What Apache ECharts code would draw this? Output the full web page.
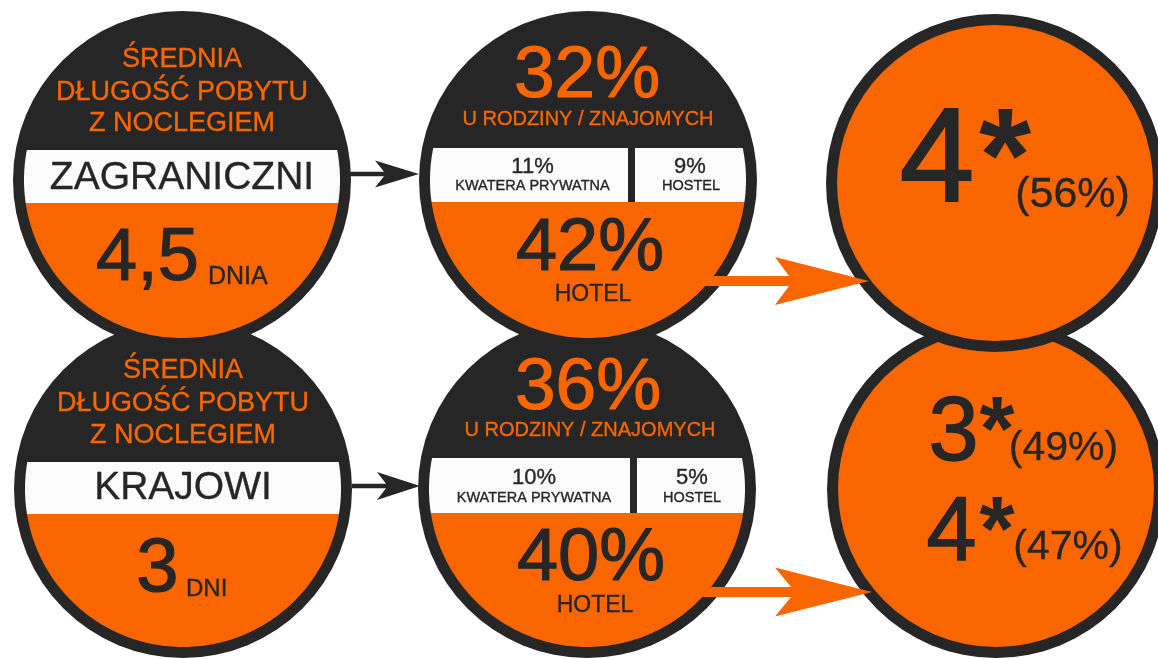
<!DOCTYPE html>
<html>
<head>
<meta charset="utf-8">
<script src="https://cdn.jsdelivr.net/npm/echarts@6/dist/echarts.min.js"></script>
<style>
html,body{margin:0;padding:0;background:#ffffff;}
#chart{width:1158px;height:659px;}
</style>
</head>
<body>
<div id="chart"></div>
<script>
// ---- data ----
const groups = ['ZAGRANICZNI', 'KRAJOWI'];
const stayTitle = ['ŚREDNIA', 'DŁUGOŚĆ POBYTU', 'Z NOCLEGIEM'];
const stayValues = ['4,5', '3'];
const stayUnits = ['DNIA', 'DNI'];
const familyShare = [32, 36];
const privateShare = [11, 10];
const hostelShare = [9, 5];
const hotelShare = [42, 40];
const hotelStars = [[4], [3, 4]];
const hotelStarShare = [[56], [49, 47]];
const familyLabel = 'U RODZINY / ZNAJOMYCH';
const privateLabel = 'KWATERA PRYWATNA';
const hostelLabel = 'HOSTEL';
const hotelLabel = 'HOTEL';

// ---- style ----
const ORANGE = '#F96600';
const DARK = '#262626';
const WHITE = '#FCFBFB';
const FONT = "'Liberation Sans', Arial, sans-serif";
const R = 169, BW = 11;

// ---- layout per row ----
const rows = [
  { c1: [182, 180], c2: [588, 180], c3: [995, 183],
    title: [60, 92.5, 124], band: [150, 203], name: 178,
    val: [147.5, 260, 74], unit: [208, 277, 25],
    fam: [587, 76.5], famLab: [588, 119], band2: [148, 202], div: [628, 635],
    pv: [532.5, 166.5], pl: [532.5, 186], hv: [690, 166.5], hl: [691, 186],
    hot: [590, 250], hotLab: [593, 294.5],
    stars: [ { big: [937, 164, 134], ast: 1005, pct: [1072.5, 195, 43] } ],
    darkArrow: { y: 174, x0: 350, barbX: 375, notchX: 384, tipX: 419, half: 13.5, lw: 4.5 },
    orangeArrow: { y: 281, x0: 700, barbX: 775, notchX: 789, tipX: 869, half: 24, lw: 10 }
  },
  { c1: [183, 489], c2: [587, 489], c3: [996, 489],
    title: [371, 403.5, 435.5], band: [462, 514], name: 488.5,
    val: [157.5, 570.5, 76], unit: [186, 589.5, 24],
    fam: [588, 389], famLab: [590, 430], band2: [458, 513], div: [630, 637],
    pv: [534, 477.5], pl: [534, 497.5], hv: [692, 477.5], hl: [692, 497.5],
    hot: [591, 560], hotLab: [595, 606],
    stars: [ { big: [953.5, 435, 90], ast: 997, pct: [1063.5, 448.5, 41] },
             { big: [951.5, 535.5, 90], ast: 997, pct: [1068, 547.5, 41] } ],
    darkArrow: { y: 486, x0: 352, barbX: 377, notchX: 386, tipX: 420, half: 14, lw: 4.5 },
    orangeArrow: { y: 592, x0: 703, barbX: 775, notchX: 791, tipX: 872, half: 24.5, lw: 10 }
  }
];

function clamp(v) { return Math.max(-1, Math.min(1, v)); }
function seg(cx, cy, r, ya, yb) {
  const a0 = Math.asin(clamp((ya - cy) / r)), a1 = Math.asin(clamp((yb - cy) / r));
  const N = 60, pts = [];
  for (let i = 0; i <= N; i++) { const t = a0 + (a1 - a0) * i / N; pts.push([cx + r * Math.cos(t), cy + r * Math.sin(t)]); }
  for (let i = N; i >= 0; i--) { const t = a0 + (a1 - a0) * i / N; pts.push([cx - r * Math.cos(t), cy + r * Math.sin(t)]); }
  return pts;
}
function txt(text, x, y, size, color, align, bold) {
  const w = bold ? 0 : (size >= 60 ? size * 0.016 : 0.35);
  return { type: 'text', x: x, y: y, silent: true,
    style: { text: text, fill: color, stroke: w > 0 ? color : null, lineWidth: w,
      font: (bold ? 'bold ' : '') + size + 'px ' + FONT,
      textAlign: align || 'center', textVerticalAlign: 'middle', align: align || 'center', verticalAlign: 'middle' } };
}
function circle(cx, cy, r, fill) { return { type: 'circle', shape: { cx: cx, cy: cy, r: r }, style: { fill: fill } }; }
function poly(points, fill) { return { type: 'polygon', shape: { points: points }, style: { fill: fill } }; }
function arrow(a, color) {
  const y = a.y, h = a.lw / 2;
  return poly([[a.x0, y - h], [a.notchX, y - h], [a.barbX, y - a.half], [a.tipX, y], [a.barbX, y + a.half], [a.notchX, y + h], [a.x0, y + h]], color);
}

function rowElements(i) {
  const L = rows[i], els = [];
  const ri = R - BW;
  // circle 1: stay length
  let [cx, cy] = L.c1;
  els.push(circle(cx, cy, R, DARK));
  els.push(poly(seg(cx, cy, ri, L.band[0], L.band[1]), WHITE));
  els.push(poly(seg(cx, cy, ri, L.band[1], cy + ri), ORANGE));
  stayTitle.forEach((t, k) => els.push(txt(t, cx, L.title[k], 27, ORANGE)));
  els.push(txt(groups[i], cx, L.name, 39, DARK));
  els.push(txt(stayValues[i], L.val[0], L.val[1], L.val[2], DARK));
  els.push(txt(stayUnits[i], L.unit[0], L.unit[1], L.unit[2], DARK, 'left'));
  // circle 2: accommodation
  [cx, cy] = L.c2;
  els.push(circle(cx, cy, R, DARK));
  els.push(poly(seg(cx, cy, ri, L.band2[0], L.band2[1]), WHITE));
  els.push({ type: 'rect', shape: { x: L.div[0], y: L.band2[0], width: L.div[1] - L.div[0], height: L.band2[1] - L.band2[0] }, style: { fill: DARK } });
  els.push(poly(seg(cx, cy, ri, L.band2[1], cy + ri), ORANGE));
  els.push(txt(familyShare[i] + '%', L.fam[0], L.fam[1], 73, ORANGE));
  els.push(txt(familyLabel, L.famLab[0], L.famLab[1], 20, ORANGE));
  els.push(txt(privateShare[i] + '%', L.pv[0], L.pv[1], 22, DARK));
  els.push(txt(privateLabel, L.pl[0], L.pl[1], 14.5, DARK));
  els.push(txt(hostelShare[i] + '%', L.hv[0], L.hv[1], 22, DARK));
  els.push(txt(hostelLabel, L.hl[0], L.hl[1], 14.5, DARK));
  els.push(txt(hotelShare[i] + '%', L.hot[0], L.hot[1], 74, DARK));
  els.push(txt(hotelLabel, L.hotLab[0], L.hotLab[1], 23, DARK));
  // circle 3: hotel standard
  [cx, cy] = L.c3;
  els.push(circle(cx, cy, R, DARK));
  els.push(circle(cx, cy, ri, ORANGE));
  hotelStars[i].forEach((s, k) => {
    const p = L.stars[k];
    els.push(txt(String(s), p.big[0], p.big[1], p.big[2], DARK));
    els.push(txt('*', p.ast, p.big[1], p.big[2], DARK, 'center', true));
    els.push(txt('(' + hotelStarShare[i][k] + '%)', p.pct[0], p.pct[1], p.pct[2], DARK));
  });
  return els;
}

const elements = [].concat(rowElements(1), rowElements(0),
  [arrow(rows[0].darkArrow, DARK), arrow(rows[1].darkArrow, DARK),
   arrow(rows[0].orangeArrow, ORANGE), arrow(rows[1].orangeArrow, ORANGE)]);

const chart = echarts.init(document.getElementById('chart'), null, { renderer: 'canvas' });
chart.setOption({
  backgroundColor: '#ffffff',
  animation: false,
  graphic: { elements: elements }
});
</script>
</body>
</html>
